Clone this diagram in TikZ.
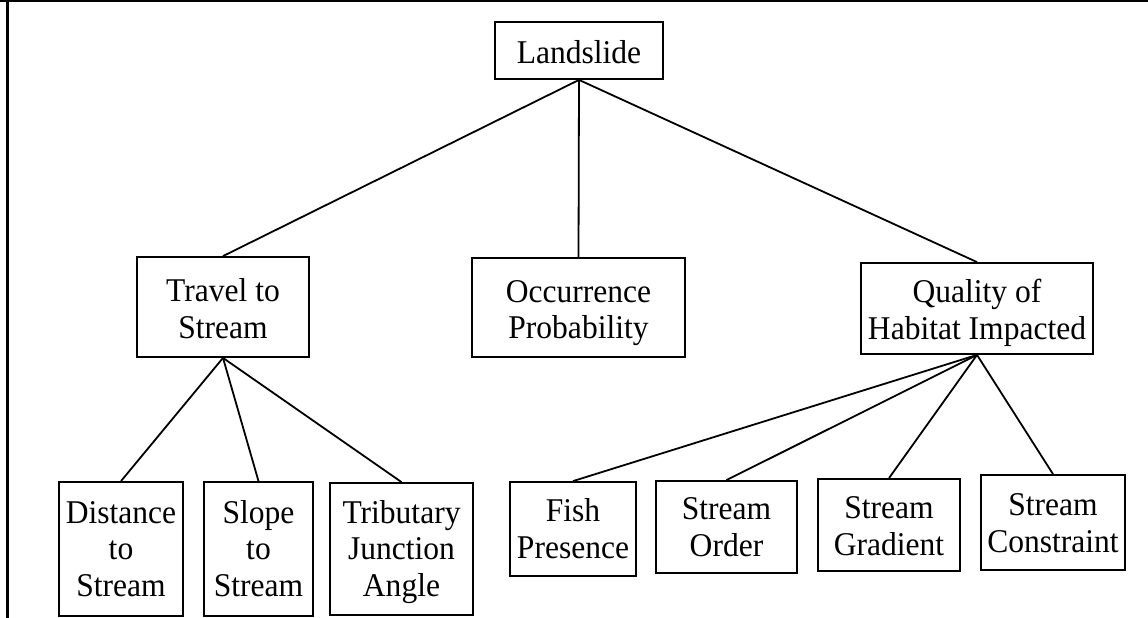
\documentclass[tikz,border=0pt]{standalone}
\usepackage{fontspec}
\setmainfont{Liberation Serif}[FakeStretch=0.95]
% centred lines whose last baseline sits #2 above the bottom and #1 below the top
\newcommand\boxlines[3]{\raisebox{0pt}[#1pt][#2pt]{\begin{tabular}[b]{@{}c@{}}#3\end{tabular}}}
\begin{document}
\begin{tikzpicture}[x=1pt,y=-1pt,
  box/.style={draw, line width=1.8pt, inner sep=0pt,
    font=\fontsize{33.2}{36.5}\selectfont},
  link/.style={line width=1.8pt},
  frame/.style={line width=2.5pt}]
\useasboundingbox (0,0) rectangle (1148,618);

% open frame: top edge across the page, left edge down the page
\coordinate (ftl) at (0,1.2);
\coordinate (ftr) at (1148,1.2);
\coordinate (fl0) at (7.7,0);
\coordinate (fbl) at (7.7,618);
\draw[frame] (ftl) -- (ftr);
\draw[frame] (fl0) -- (fbl);

% root
\node[box, minimum width=168pt] (land) at (579,50.5) {\boxlines{41.3}{15.7}{Landslide}};

% middle level
\node[box, minimum width=172pt] (travel) at (223,307) {\boxlines{81}{19}{Travel to\\Stream}};
\node[box, minimum width=213pt] (occ) at (578.5,307.5) {\boxlines{80.5}{18.5}{Occurrence\\Probability}};
\node[box, minimum width=232pt] (qual) at (977,308.5) {\boxlines{76}{15}{Quality of\\Habitat Impacted}};

% leaves under travel
\node[box, minimum width=124pt] (dist) at (121,549) {\boxlines{114}{20}{Distance\\to\\Stream}};
\node[box, minimum width=109pt] (slope) at (258.5,549) {\boxlines{114}{20}{Slope\\to\\Stream}};
\node[box, minimum width=143pt] (trib) at (401.5,549) {\boxlines{113}{19}{Tributary\\Junction\\Angle}};

% leaves under habitat quality
\node[box, minimum width=126pt] (fish) at (573,529) {\boxlines{76}{18}{Fish\\Presence}};
\node[box, minimum width=141pt] (order) at (726.5,527) {\boxlines{75}{17}{Stream\\Order}};
\node[box, minimum width=142pt] (grad) at (889,525) {\boxlines{76}{16}{Stream\\Gradient}};
\node[box, minimum width=144pt] (cons) at (1053,522.5) {\boxlines{77}{18}{Stream\\Constraint}};

% connectors
\draw[link] (land.south) -- (travel.north);
\draw[link] (land.south) -- (occ.north);
\draw[link] (land.south) -- (qual.north);

\draw[link] (travel.south) -- (dist.north);
\draw[link] (travel.south) -- (slope.north);
\draw[link] (travel.south) -- (trib.north);

\draw[link] (qual.south) -- (fish.north);
\draw[link] (qual.south) -- (order.north);
\draw[link] (qual.south) -- (grad.north);
\draw[link] (qual.south) -- (cons.north);
\end{tikzpicture}
\end{document}
